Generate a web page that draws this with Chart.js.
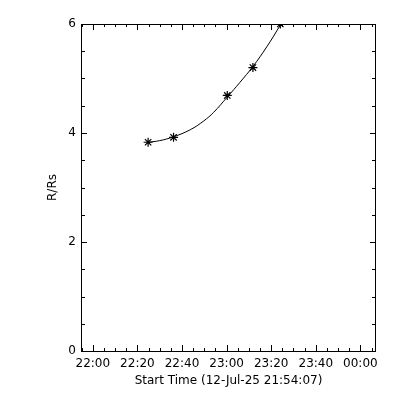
<!DOCTYPE html>
<html>
<head>
<meta charset="utf-8">
<script src="https://cdn.jsdelivr.net/npm/chart.js@4.4.1/dist/chart.umd.min.js"></script>
<style>
  html, body { margin: 0; padding: 0; background: #fff; }
  #wrap { width: 400px; height: 400px; position: relative; }
</style>
</head>
<body>
<div id="wrap"><canvas id="c" width="400" height="400"></canvas></div>
<script>
// Minutes after 22:00 on 12-Jul-25
const obsMinutes = [24.8, 36.2, 60.3, 71.8, 84.1];
const obsRadius  = [3.83, 3.92, 4.69, 5.20, 6.00];

// Fitted height-time curve
const fitMinutes = [24.8, 30.0, 36.2, 43.7, 49.7, 54.2, 60.3, 66.0, 71.8, 78.0, 84.1, 87.0];
const fitRadius  = [3.83, 3.86, 3.93, 4.06, 4.22, 4.38, 4.66, 4.93, 5.22, 5.58, 5.98, 6.18];

const xTickValues = [0, 20, 40, 60, 80, 100, 120];
const xTickLabels = ['22:00', '22:20', '22:40', '23:00', '23:20', '23:40', '00:00'];
const yTickValues = [0, 2, 4, 6];
const xMin = -5.3, xMax = 127.0;
const yMin = 0, yMax = 6;

const FONT = { family: 'DejaVu Sans', size: 12 };

const framePlugin = {
  id: 'frame',
  afterDraw(chart) {
    const { ctx, chartArea: a } = chart;
    const xs = chart.scales.x, ys = chart.scales.y;
    ctx.save();
    ctx.strokeStyle = '#000';
    ctx.lineWidth = 1;
    ctx.beginPath();
    ctx.rect(Math.round(a.left) + 0.5, Math.round(a.top) + 0.5,
             Math.round(a.right - a.left) - 1, Math.round(a.bottom - a.top));
    // x ticks (bottom and top)
    for (let m = -5; m <= 125; m += 5) {
      if (m < xMin || m > xMax) continue;
      const px = Math.round(xs.getPixelForValue(m)) + 0.5;
      if (px < a.left + 1 || px > a.right - 1) continue;
      const len = (m % 20 === 0) ? 6 : 3;
      ctx.moveTo(px, a.bottom); ctx.lineTo(px, a.bottom - len);
      ctx.moveTo(px, a.top); ctx.lineTo(px, a.top + len);
    }
    // y ticks (left and right)
    for (let v = 0; v <= 6.001; v += 0.5) {
      const py = Math.round(ys.getPixelForValue(v)) + 0.5;
      const len = (Math.abs(v % 2) < 1e-6) ? 6 : 4;
      ctx.moveTo(a.left, py); ctx.lineTo(a.left + len, py);
      ctx.moveTo(a.right, py); ctx.lineTo(a.right - len, py);
    }
    ctx.stroke();
    ctx.restore();
  }
};

new Chart(document.getElementById('c'), {
  type: 'scatter',
  data: {
    datasets: [
      {
        label: 'fit',
        data: fitMinutes.map((m, i) => ({ x: m, y: fitRadius[i] })),
        showLine: true,
        borderColor: '#000',
        borderWidth: 1,
        pointRadius: 0,
        tension: 0.4,
        clip: 0
      },
      {
        label: 'R/Rs',
        data: obsMinutes.map((m, i) => ({ x: m, y: obsRadius[i] })),
        showLine: false,
        pointStyle: 'star',
        pointRadius: 4.5,
        borderColor: '#000',
        backgroundColor: '#000',
        borderWidth: 1.2,
        clip: 0
      }
    ]
  },
  options: {
    responsive: false,
    animation: false,
    devicePixelRatio: 1,
    layout: { padding: { left: 0, top: 24, right: 24, bottom: 0 } },
    plugins: { legend: { display: false }, tooltip: { enabled: false } },
    scales: {
      x: {
        type: 'linear',
        min: xMin, max: xMax,
        afterBuildTicks: (s) => { s.ticks = xTickValues.map(v => ({ value: v })); },
        afterFit: (s) => { s.height = 49; },
        grid: { display: false, drawTicks: false },
        border: { display: false },
        ticks: {
          color: '#000', font: FONT, padding: 6, maxRotation: 0, autoSkip: false,
          callback: (v) => { const i = xTickValues.indexOf(v); return i >= 0 ? xTickLabels[i] : ''; }
        },
        title: {
          display: true, text: 'Start Time (12-Jul-25 21:54:07)', color: '#000', font: FONT,
          padding: { top: 0, bottom: 12 }
        }
      },
      y: {
        type: 'linear',
        min: yMin, max: yMax,
        afterBuildTicks: (s) => { s.ticks = yTickValues.map(v => ({ value: v })); },
        afterFit: (s) => { s.width = 81; },
        grid: { display: false, drawTicks: false },
        border: { display: false },
        ticks: { color: '#000', font: FONT, padding: 5 },
        title: {
          display: true, text: 'R/Rs', color: '#000', font: FONT,
          padding: { top: 46, bottom: 0 }
        }
      }
    }
  },
  plugins: [framePlugin]
});
</script>
</body>
</html>
